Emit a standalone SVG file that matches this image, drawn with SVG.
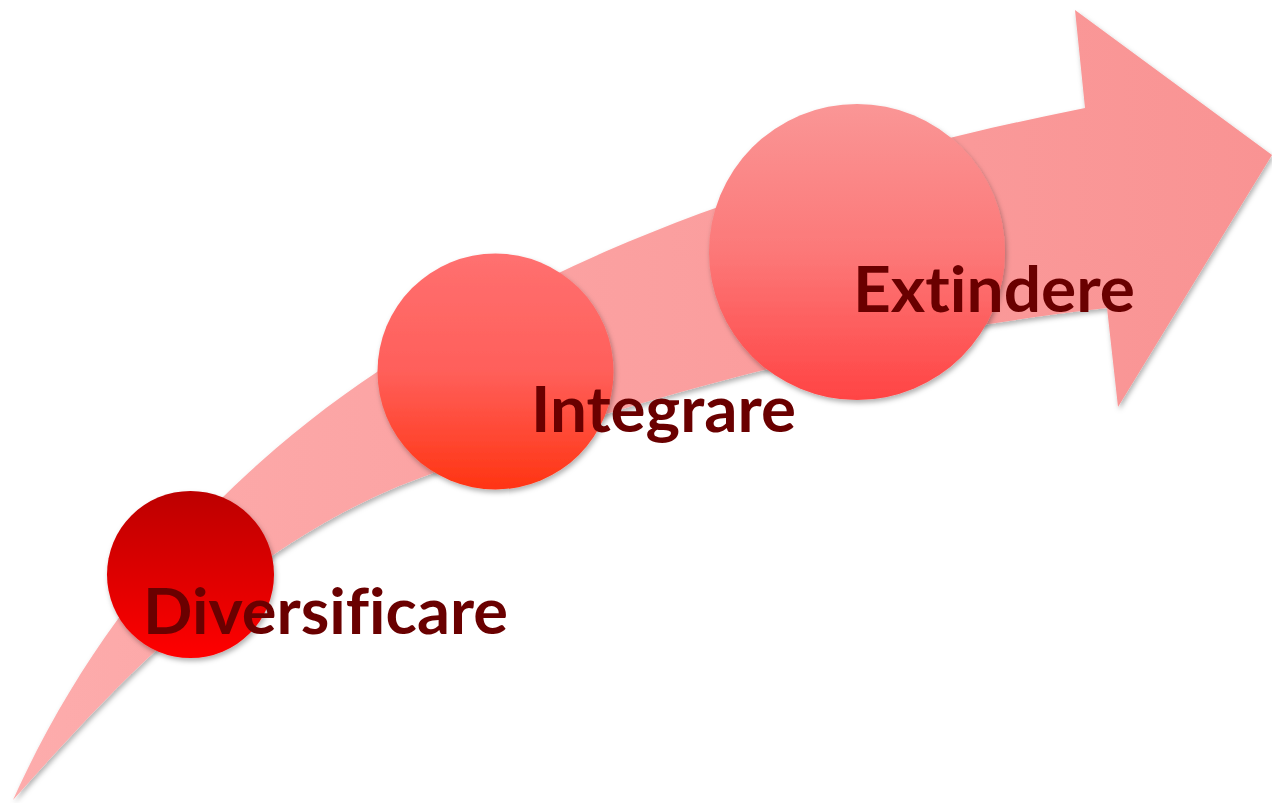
<svg xmlns="http://www.w3.org/2000/svg" width="1272" height="803" viewBox="0 0 1272 803">
<defs>
<style>
.lbl{font-family:Lato,"Open Sans","Liberation Sans",sans-serif;font-weight:700;font-size:64px;fill:#6A0000;font-variant-ligatures:none;font-feature-settings:"liga" 0,"clig" 0;}
</style>
<linearGradient id="gArrow" gradientUnits="userSpaceOnUse" x1="13" y1="0" x2="1272" y2="0">
<stop offset="0" stop-color="#FDACAC"/>
<stop offset="1" stop-color="#F99393"/>
</linearGradient>
<linearGradient id="g1" x1="0" y1="0" x2="0" y2="1">
<stop offset="0" stop-color="#BC0000"/>
<stop offset="1" stop-color="#FF0000"/>
</linearGradient>
<linearGradient id="g2" x1="0" y1="0" x2="0" y2="1">
<stop offset="0" stop-color="#FF7070"/>
<stop offset="0.5" stop-color="#FF5F5A"/>
<stop offset="1" stop-color="#FF3412"/>
</linearGradient>
<linearGradient id="g3" x1="0" y1="0" x2="0" y2="1">
<stop offset="0" stop-color="#FA9696"/>
<stop offset="0.5" stop-color="#FC7878"/>
<stop offset="1" stop-color="#FF4444"/>
</linearGradient>
<filter id="sh" x="-10%" y="-10%" width="125%" height="125%">
<feDropShadow dx="1.5" dy="3" stdDeviation="2.5" flood-color="#000" flood-opacity="0.3"/>
</filter>
</defs>
<g id="connectors">
<path id="arrow" filter="url(#sh)" fill="url(#gArrow)" d="M13,800 C120,680 250,540 420,478 C580,418 820,340 1107,308 L1118,407 L1272,155 L1075,10 L1085,108 C900,145 700,200 520,292 C330,380 130,540 13,800 Z"/>
</g>
<g id="node-diversificare">
<circle cx="190.5" cy="574.5" r="83.5" fill="url(#g1)" filter="url(#sh)"/>
<text class="lbl" x="143" y="634" textLength="365" lengthAdjust="spacingAndGlyphs">Diversificare</text>
</g>
<g id="node-integrare">
<circle cx="495.5" cy="371.5" r="118" fill="url(#g2)" filter="url(#sh)"/>
<text class="lbl" x="531" y="432" textLength="265" lengthAdjust="spacingAndGlyphs">Integrare</text>
</g>
<g id="node-extindere">
<circle cx="857" cy="252" r="148" fill="url(#g3)" filter="url(#sh)"/>
<text class="lbl" x="853" y="312" textLength="282" lengthAdjust="spacingAndGlyphs">Extindere</text>
</g>
</svg>
